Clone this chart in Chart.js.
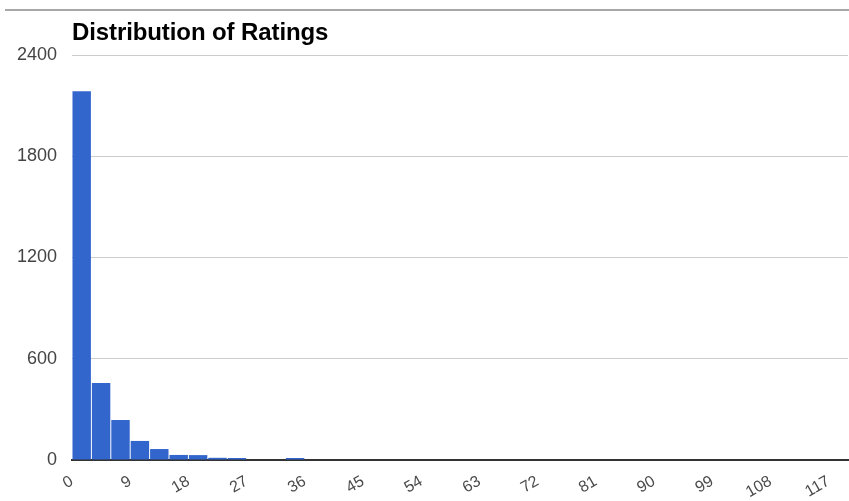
<!DOCTYPE html>
<html>
<head>
<meta charset="utf-8">
<script src="https://cdn.jsdelivr.net/npm/chart.js@4/dist/chart.umd.min.js"></script>
<style>
  html, body { margin: 0; padding: 0; background: #fff; }
  #wrap { position: relative; width: 849px; height: 501px; }
  #topline { position: absolute; left: 5px; right: 0; top: 9px; height: 2px; background: #a8a8a8; }
  #title { position: absolute; left: 72px; top: 18px; font: bold 24px "Liberation Sans", Arial, sans-serif; color: #000; letter-spacing: -0.1px; }
</style>
</head>
<body>
<div id="wrap">
  <div id="topline"></div>
  <div id="title">Distribution of Ratings</div>
  <canvas id="chart" width="849" height="501"></canvas>
</div>
<script>
// histogram bins of width 3 (bin start values)
const binStarts = [0, 3, 6, 9, 12, 15, 18, 21, 24, 27, 30, 33, 36, 39, 42, 45, 48, 51, 54, 57,
                   60, 63, 66, 69, 72, 75, 78, 81, 84, 87, 90, 93, 96, 99, 102, 105, 108, 111, 114, 117];
const counts = [2185, 456, 237, 113, 65, 30, 29, 13, 12, 0, 0, 12, 0, 0, 0, 0, 0, 0, 0, 0,
                0, 0, 0, 0, 0, 0, 0, 0, 0, 0, 0, 0, 0, 0, 0, 0, 0, 0, 0, 0];
const xTicks = [0, 9, 18, 27, 36, 45, 54, 63, 72, 81, 90, 99, 108, 117];
const yTicks = [0, 600, 1200, 1800, 2400];

const points = binStarts.map((s, i) => ({ x: s + 1.5, y: counts[i] }));

const family = '"Liberation Sans", Arial, sans-serif';

new Chart(document.getElementById("chart").getContext("2d"), {
  type: "bar",
  data: {
    datasets: [{
      data: points,
      backgroundColor: "#3366cc",
      borderWidth: 0,
      barPercentage: 0.95,
      categoryPercentage: 1
    }]
  },
  options: {
    responsive: false,
    animation: false,
    layout: { padding: { left: 0, right: 1, top: 55, bottom: 0 } },
    plugins: { legend: { display: false }, tooltip: { enabled: false } },
    scales: {
      x: {
        type: "linear",
        min: 0,
        max: 120,
        offset: false,
        grid: { display: false },
        border: { color: "#333", width: 2 },
        afterBuildTicks: (axis) => { axis.ticks = xTicks.map(v => ({ value: v })); },
        afterFit: (axis) => { axis.height = 41; },
        ticks: {
          color: "#4a4a4a",
          font: { family: family, size: 16 },
          minRotation: 30,
          maxRotation: 30,
          autoSkip: false,
          padding: 4,
          callback: (v) => String(v)
        }
      },
      y: {
        min: 0,
        max: 2400,
        afterBuildTicks: (axis) => { axis.ticks = yTicks.map(v => ({ value: v })); },
        afterFit: (axis) => { axis.width = 72; },
        grid: { color: "#cccccc", drawTicks: false },
        border: { display: false },
        ticks: { color: "#444", font: { family: family, size: 18 }, padding: 15, callback: (v) => String(v) }
      }
    }
  }
});
</script>
</body>
</html>
